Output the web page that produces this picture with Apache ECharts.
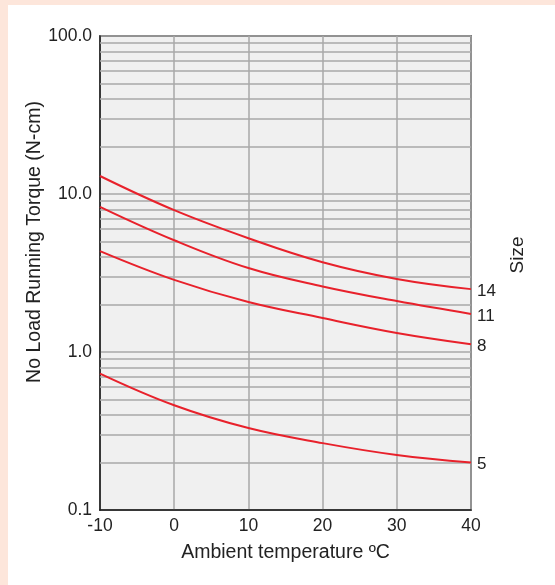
<!DOCTYPE html>
<html>
<head>
    <meta charset="utf-8">
    <script src="https://cdn.jsdelivr.net/npm/echarts@6/dist/echarts.min.js"></script>
    <title>No load running torque vs ambient temperature</title>
    <style>
        html, body { margin: 0; padding: 0; }
        #main { width: 555px; height: 585px; }
    </style>
</head>
<body>
    <div id="main"></div>

    <script type="text/javascript">
        // ambient temperature, degC
        var temps = [-10, 0, 10, 20, 30, 40];

        // torque (N-cm) per motor size
        var size14 = [13.0, 7.9, 5.25, 3.7, 2.9, 2.5];
        var size11 = [8.3, 5.1, 3.4, 2.6, 2.1, 1.74];
        var size8 = [4.35, 2.86, 2.07, 1.64, 1.32, 1.12];
        var size5 = [0.73, 0.46, 0.33, 0.265, 0.223, 0.2];

        var sizeNames = ['14', '11', '8', '5'];
        var sizeData = [size14, size11, size8, size5];

        var yTickLabels = { '0.1': '0.1', '1': '1.0', '10': '10.0', '100': '100.0' };

        var myChart = echarts.init(document.getElementById('main'));
        var font = '"Liberation Sans", Helvetica, Arial, sans-serif';

        // minor log grid lines 2..9 in each decade
        var minorLines = [];
        [0.1, 1, 10].forEach(function (d) {
            for (var k = 2; k <= 9; k++) {
                minorLines.push({ yAxis: +(k * d).toFixed(2) });
            }
        });

        var series = sizeData.map(function (vals, i) {
            return {
                name: sizeNames[i],
                type: 'line',
                smooth: 0.4,
                symbol: 'none',
                data: temps.map(function (t, j) { return [t, vals[j]]; }),
                lineStyle: { color: '#e8212b', width: 2 },
                endLabel: {
                    show: true,
                    formatter: '{a}',
                    color: '#222',
                    fontSize: 17,
                    fontFamily: font,
                    distance: 6,
                    offset: [0, 2]
                },
                z: 5
            };
        });

        series.push({
            type: 'line',
            data: [],
            silent: true,
            markLine: {
                silent: true,
                symbol: 'none',
                label: { show: false },
                lineStyle: { color: '#a8a8a8', width: 1.5, type: 'solid' },
                data: minorLines
            },
            z: 1
        });

        myChart.setOption({
            backgroundColor: '#fde6db',
            animation: false,
            graphic: [{
                type: 'rect',
                left: 8,
                top: 5,
                shape: { width: 547, height: 580 },
                style: { fill: '#ffffff' },
                z: -10
            }, {
                type: 'text',
                x: 518,
                y: 255,
                rotation: Math.PI / 2,
                style: {
                    text: 'Size',
                    fill: '#222',
                    font: '19px ' + font,
                    textAlign: 'center',
                    textVerticalAlign: 'middle'
                }
            }, {
                type: 'text',
                x: 35,
                y: 242,
                rotation: Math.PI / 2,
                style: {
                    text: 'No Load Running Torque (N-cm)',
                    fill: '#222',
                    font: '19.5px ' + font,
                    textAlign: 'center',
                    textVerticalAlign: 'middle'
                }
            }],
            grid: {
                left: 100,
                right: 84,
                top: 36,
                bottom: 75,
                show: true,
                backgroundColor: '#f0f0f0',
                borderColor: '#1a1a1a',
                borderWidth: 1.5
            },
            xAxis: {
                type: 'value',
                min: -10,
                max: 40,
                interval: 10,
                name: 'Ambient temperature ºC',
                nameLocation: 'middle',
                nameGap: 33,
                nameTextStyle: { color: '#222', fontSize: 19.5, fontFamily: font },
                axisLine: { onZero: false, lineStyle: { color: '#1a1a1a', width: 1.5 } },
                axisTick: { show: false },
                axisLabel: { color: '#222', fontSize: 17.5, fontFamily: font, margin: 7 },
                splitLine: { show: true, lineStyle: { color: '#a8a8a8', width: 1.5 } }
            },
            yAxis: {
                type: 'log',
                logBase: 10,
                min: 0.1,
                max: 100,
                axisLine: { onZero: false, lineStyle: { color: '#1a1a1a', width: 1.5 } },
                axisTick: { show: false },
                axisLabel: {
                    color: '#222',
                    fontSize: 17.5,
                    fontFamily: font,
                    margin: 8,
                    formatter: function (v) {
                        var key = String(+v.toPrecision(3));
                        return yTickLabels[key] || '';
                    }
                },
                splitLine: { show: true, lineStyle: { color: '#a8a8a8', width: 1.5 } }
            },
            series: series
        });
    </script>
</body>
</html>
